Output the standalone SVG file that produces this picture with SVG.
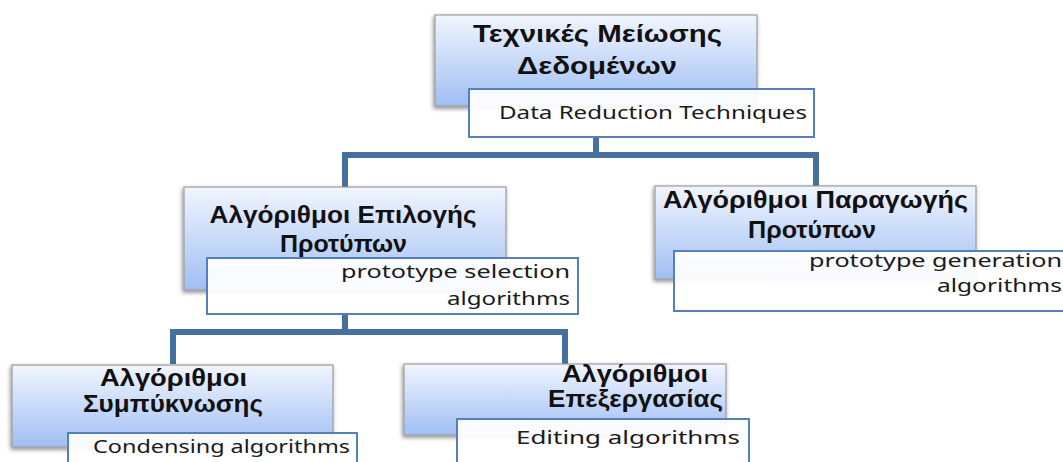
<svg xmlns="http://www.w3.org/2000/svg" width="1063" height="462" viewBox="0 0 1063 462">
<defs>
<linearGradient id="blueGrad" x1="0" y1="0" x2="0" y2="1">
<stop offset="0" stop-color="#f1f5fe"/>
<stop offset="1" stop-color="#a0bff4"/>
</linearGradient>
<filter id="shadow" x="-10%" y="-10%" width="120%" height="130%">
<feDropShadow dx="-1" dy="2" stdDeviation="2" flood-color="#000" flood-opacity="0.45"/>
</filter>
<style>
.box{fill:url(#blueGrad);stroke:#9c9c9c;stroke-width:1.2;filter:url(#shadow)}
.lbl{fill:#ffffff;fill-opacity:0.93;stroke:#5680bb;stroke-width:2}
.conn{fill:none;stroke:#46709f;stroke-width:6;stroke-linejoin:miter}
.t{font-family:"Liberation Sans","DejaVu Sans",sans-serif;font-weight:bold;font-size:23px;fill:#111;text-anchor:middle}
.s{font-family:"Noto Sans","Open Sans","DejaVu Sans",sans-serif;font-size:18px;fill:#1a1a1a}
.r{text-anchor:end}
</style>
</defs>
<rect width="1063" height="462" fill="#ffffff"/>
<g id="connectors">
<path class="conn" d="M596,137 V155 M345,188 V155 H816 V186"/>
<path class="conn" d="M345,313 V332 M173,364 V332 H565 V364"/>
</g>
<g id="node-root">
<rect class="box" x="435" y="15" width="322" height="91"/>
<text class="t" x="597.5" y="42" textLength="249" lengthAdjust="spacingAndGlyphs">Τεχνικές Μείωσης</text>
<text class="t" x="597" y="74" textLength="160" lengthAdjust="spacingAndGlyphs">Δεδομένων</text>
<rect class="lbl" x="469" y="89" width="345" height="48"/>
<text class="s" x="499" y="119" textLength="308" lengthAdjust="spacingAndGlyphs">Data Reduction Techniques</text>
</g>
<g id="node-selection">
<rect class="box" x="184" y="187" width="322" height="103"/>
<text class="t" x="343" y="222.5" textLength="267" lengthAdjust="spacingAndGlyphs">Αλγόριθμοι Επιλογής</text>
<text class="t" x="343.5" y="251.5" textLength="127" lengthAdjust="spacingAndGlyphs">Προτύπων</text>
<rect class="lbl" x="207" y="258" width="371" height="56"/>
<text class="s r" x="570" y="278" textLength="229" lengthAdjust="spacingAndGlyphs">prototype selection</text>
<text class="s r" x="570" y="305" textLength="123" lengthAdjust="spacingAndGlyphs">algorithms</text>
</g>
<g id="node-generation">
<rect class="box" x="655" y="186" width="321" height="93"/>
<text class="t" x="815.5" y="207.5" textLength="305" lengthAdjust="spacingAndGlyphs">Αλγόριθμοι Παραγωγής</text>
<text class="t" x="812" y="238" textLength="128" lengthAdjust="spacingAndGlyphs">Προτύπων</text>
<rect class="lbl" x="674" y="251" width="392" height="60"/>
<text class="s r" x="1062" y="267" textLength="253" lengthAdjust="spacingAndGlyphs">prototype generation</text>
<text class="s r" x="1062" y="292" textLength="125" lengthAdjust="spacingAndGlyphs">algorithms</text>
</g>
<g id="node-condensing">
<rect class="box" x="12" y="365" width="321" height="82"/>
<text class="t" x="173.5" y="386" textLength="147" lengthAdjust="spacingAndGlyphs">Αλγόριθμοι</text>
<text class="t" x="173" y="412" textLength="180" lengthAdjust="spacingAndGlyphs">Συμπύκνωσης</text>
<rect class="lbl" x="68" y="433" width="289" height="40"/>
<text class="s" x="93" y="452.5" textLength="257" lengthAdjust="spacingAndGlyphs">Condensing algorithms</text>
</g>
<g id="node-editing">
<rect class="box" x="404" y="364" width="322" height="71"/>
<text class="t" x="635" y="382" textLength="146" lengthAdjust="spacingAndGlyphs">Αλγόριθμοι</text>
<text class="t" x="635.5" y="407" textLength="175" lengthAdjust="spacingAndGlyphs">Επεξεργασίας</text>
<rect class="lbl" x="457" y="419" width="292" height="50"/>
<text class="s" x="516" y="444" textLength="224" lengthAdjust="spacingAndGlyphs">Editing algorithms</text>
</g>
</svg>
